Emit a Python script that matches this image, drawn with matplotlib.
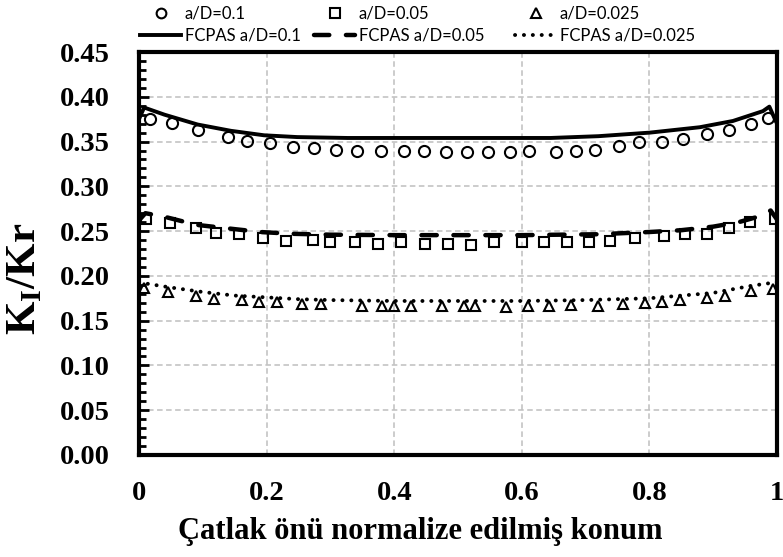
import matplotlib
matplotlib.use("Agg")
import matplotlib.pyplot as plt
from matplotlib.lines import Line2D

plt.rcParams['lines.scale_dashes'] = False
plt.rcParams['mathtext.fontset'] = 'custom'
plt.rcParams['mathtext.rm'] = 'Liberation Serif:bold'
plt.rcParams['mathtext.bf'] = 'Liberation Serif:bold'

# ---- data ----
x_c01 = [0.018, 0.051, 0.092, 0.139, 0.169, 0.205, 0.241, 0.274, 0.309, 0.342, 0.379,
         0.415, 0.447, 0.481, 0.514, 0.547, 0.581, 0.611, 0.653, 0.685, 0.715, 0.752,
         0.783, 0.820, 0.852, 0.891, 0.925, 0.960, 0.986]
y_c01 = [0.375, 0.371, 0.363, 0.355, 0.351, 0.348, 0.344, 0.343, 0.341, 0.340, 0.340,
         0.339, 0.339, 0.338, 0.338, 0.338, 0.338, 0.339, 0.338, 0.339, 0.341, 0.345,
         0.349, 0.350, 0.353, 0.358, 0.363, 0.370, 0.376]

x_s005 = [0.011, 0.049, 0.089, 0.120, 0.156, 0.194, 0.230, 0.272, 0.300, 0.338, 0.374,
          0.410, 0.449, 0.484, 0.521, 0.557, 0.600, 0.635, 0.671, 0.705, 0.739, 0.778,
          0.823, 0.856, 0.890, 0.924, 0.958, 0.997]
y_s005 = [0.264, 0.259, 0.253, 0.248, 0.247, 0.242, 0.239, 0.240, 0.238, 0.238, 0.236,
          0.238, 0.236, 0.236, 0.234, 0.238, 0.238, 0.238, 0.238, 0.238, 0.239, 0.242,
          0.244, 0.247, 0.247, 0.254, 0.260, 0.264]

x_t0025 = [0.008, 0.045, 0.089, 0.118, 0.161, 0.188, 0.217, 0.256, 0.286, 0.349, 0.381,
           0.400, 0.426, 0.475, 0.509, 0.526, 0.576, 0.609, 0.643, 0.677, 0.720, 0.759,
           0.793, 0.820, 0.848, 0.891, 0.919, 0.960, 0.994]
y_t0025 = [0.186, 0.182, 0.177, 0.174, 0.173, 0.171, 0.171, 0.169, 0.169, 0.166, 0.166,
           0.166, 0.166, 0.166, 0.166, 0.166, 0.165, 0.166, 0.166, 0.167, 0.166, 0.169,
           0.170, 0.171, 0.173, 0.175, 0.177, 0.183, 0.185]

x_f01 = [0.0, 0.008, 0.04, 0.092, 0.144, 0.196, 0.248, 0.327, 0.45, 0.55, 0.645, 0.72,
         0.801, 0.879, 0.931, 0.978, 0.988, 0.998]
y_f01 = [0.375, 0.388, 0.380, 0.369, 0.362, 0.357, 0.355, 0.354, 0.354, 0.354, 0.354,
         0.356, 0.360, 0.366, 0.373, 0.384, 0.389, 0.373]

x_f005 = [0.0, 0.01, 0.04, 0.09, 0.14, 0.19, 0.24, 0.30, 0.40, 0.50, 0.60, 0.72, 0.80,
          0.85, 0.90, 0.94, 0.965, 0.99, 1.0]
y_f005 = [0.262, 0.270, 0.266, 0.257, 0.253, 0.249, 0.247, 0.246, 0.2455, 0.2455, 0.2455,
          0.2465, 0.249, 0.251, 0.255, 0.260, 0.265, 0.273, 0.263]

x_f0025 = [0.0, 0.015, 0.05, 0.10, 0.15, 0.20, 0.25, 0.30, 0.40, 0.50, 0.60, 0.70, 0.80,
           0.85, 0.90, 0.93, 0.96, 0.99, 1.0]
y_f0025 = [0.193, 0.191, 0.187, 0.182, 0.178, 0.176, 0.174, 0.173, 0.172, 0.172, 0.172,
           0.173, 0.175, 0.178, 0.181, 0.185, 0.189, 0.192, 0.193]

y_ticks = [0.00, 0.05, 0.10, 0.15, 0.20, 0.25, 0.30, 0.35, 0.40, 0.45]
x_ticks = [0, 0.2, 0.4, 0.6, 0.8, 1.0]
x_ticklabels = ['0', '0.2', '0.4', '0.6', '0.8', '1']

# ---- figure ----
fig = plt.figure(figsize=(7.83, 5.57), dpi=100)
ax = fig.add_axes([139/783, 1 - 455/557, (777 - 139)/783, (455 - 52)/557])

ax.set_xlim(0, 1)
ax.set_ylim(0, 0.45)

ax.grid(True, which='major', color='#BFBFBF', linestyle=(0, (4, 2.5)), linewidth=1.1)
ax.set_axisbelow(True)

mk = dict(linestyle='none', markerfacecolor='none', markeredgecolor='black',
          markeredgewidth=1.5)
ax.plot(x_c01, y_c01, marker='o', markersize=8, zorder=3, **mk)
ax.plot(x_s005, y_s005, marker='s', markersize=7.5, zorder=3, **mk)
ax.plot(x_t0025, y_t0025, marker='^', markersize=7.5, zorder=3, **mk)

ax.plot(x_f01, y_f01, color='black', lw=2.8, solid_joinstyle='round', zorder=4)
ax.plot(x_f005, y_f005, color='black', lw=3.2, linestyle=(0, (11, 12)),
        dash_capstyle='round', zorder=4)
ax.plot(x_f0025, y_f0025, color='black', lw=2.8, linestyle=(0, (0.1, 6.3)),
        dash_capstyle='round', zorder=4)

for s in ax.spines.values():
    s.set_linewidth(3)
    s.set_color('black')

serif = 'Liberation Serif'
ax.set_yticks(y_ticks)
ax.set_yticklabels([f'{v:.2f}' for v in y_ticks], fontfamily=serif, fontweight='bold',
                   fontsize=20.5)
ax.set_xticks(x_ticks)
ax.set_xticklabels(x_ticklabels, fontfamily=serif, fontweight='bold', fontsize=20.5)
ax.set_yticks([i * 0.01 for i in range(46)], minor=True)
ax.tick_params(axis='y', which='major', direction='in', length=7, width=2, pad=21)
ax.tick_params(axis='y', which='minor', direction='in', length=5, width=2)
ax.tick_params(axis='x', which='major', direction='in', length=0, pad=19)

fig.text(420/783, 1 - 531/557, 'Çatlak önü normalize edilmiş konum', ha='center',
         va='center', fontfamily=serif, fontweight='bold', fontsize=22)
fig.text(25/783, 1 - 279/557, r'K$_\mathbf{I}$/Kr', ha='center', va='center',
         rotation=90, fontfamily=serif, fontweight='bold', fontsize=31)

# ---- legend: three columns, markers on the top row, model curves below ----
h_c = Line2D([], [], marker='o', markersize=7, **mk)
h_s = Line2D([], [], marker='s', markersize=7, **mk)
h_t = Line2D([], [], marker='^', markersize=7, **mk)
h_l1 = Line2D([], [], color='black', lw=2.8)
h_l2 = Line2D([], [], color='black', lw=3.2, linestyle=(0, (11, 12)), dash_capstyle='round')
h_l3 = Line2D([], [], color='black', lw=2.8, linestyle=(0, (0.1, 6.3)), dash_capstyle='round')

cols = [((h_c, h_l1), ('a/D=0.1', 'FCPAS a/D=0.1'), 138),
        ((h_s, h_l2), ('a/D=0.05', 'FCPAS a/D=0.05'), 312),
        ((h_t, h_l3), ('a/D=0.025', 'FCPAS a/D=0.025'), 513)]
for handles, labels, xpx in cols:
    fig.legend(handles, labels, loc='upper left',
               bbox_to_anchor=(xpx/783, 1 - 4/557), frameon=False,
               prop={'family': 'Lato', 'size': 12}, handlelength=2.5,
               handletextpad=0.2, labelspacing=0.35, borderpad=0.1,
               borderaxespad=0)

fig.savefig('out.png', dpi=100)
